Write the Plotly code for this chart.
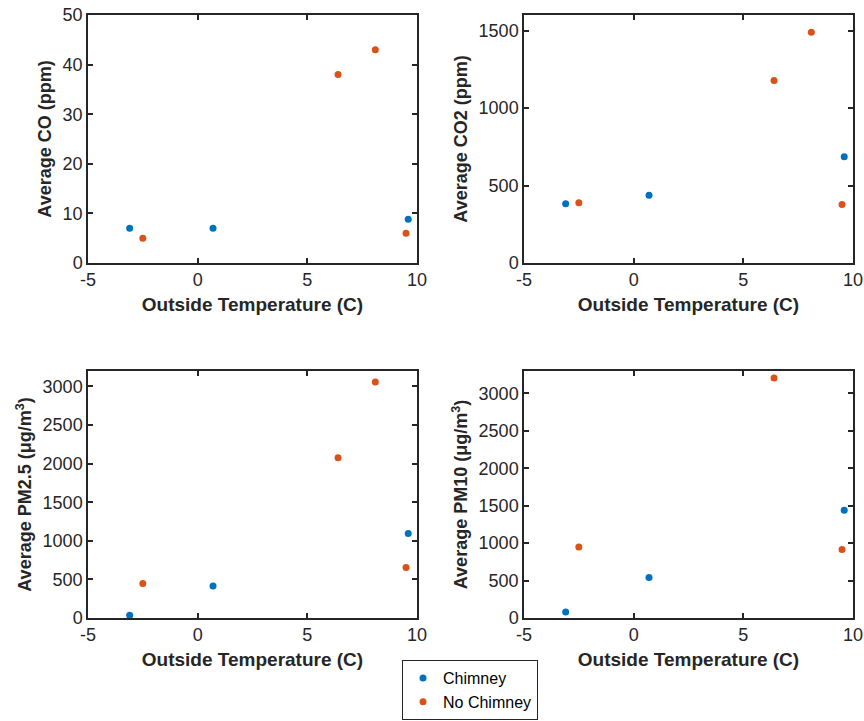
import plotly.graph_objects as go

# ---- data ----
temp_chimney = [-3.1, 0.7, 9.6]
temp_no_chimney = [-2.5, 6.4, 8.1, 9.5]

co_chimney = [7, 7, 8.8]
co_no_chimney = [5, 38, 43, 6]

co2_chimney = [383, 437, 685]
co2_no_chimney = [388, 1178, 1488, 377]

pm25_chimney = [35, 413, 1094]
pm25_no_chimney = [448, 2076, 3058, 655]

pm10_chimney = [80, 542, 1438]
pm10_no_chimney = [949, 3205, None, 915]

x_ticks = [-5, 0, 5, 10]
x_tick_labels = ["-5", "0", "5", "10"]

series_names = ["Chimney", "No Chimney"]
y_titles = ["Average CO (ppm)", "Average CO2 (ppm)",
            "Average PM2.5 (μg/m<sup>3</sup>)", "Average PM10 (μg/m<sup>3</sup>)"]
x_title = "Outside Temperature (C)"

# ---- style ----
BLUE = "#0072BD"
ORANGE = "#D95319"
AX = "#262626"
FONT = "Liberation Sans, Arial, sans-serif"

W, H = 864, 721
def px_x(a, b):
    return [a / W, b / W]
def px_y(top, bottom):
    return [1 - bottom / H, 1 - top / H]

panels = [
    dict(xd=px_x(88, 417), yd=px_y(15, 263), yr=[0, 50], dt=10,
         ch=co_chimney, nc=co_no_chimney),
    dict(xd=px_x(524, 853), yd=px_y(15, 263), yr=[0, 1600], dt=500,
         ch=co2_chimney, nc=co2_no_chimney),
    dict(xd=px_x(88, 417), yd=px_y(371, 618), yr=[0, 3200], dt=500,
         ch=pm25_chimney, nc=pm25_no_chimney),
    dict(xd=px_x(524, 853), yd=px_y(371, 618), yr=[0, 3300], dt=500,
         ch=pm10_chimney, nc=pm10_no_chimney),
]

fig = go.Figure()
layout = {}
for i, p in enumerate(panels):
    n = "" if i == 0 else str(i + 1)
    xa, ya = "x" + n, "y" + n
    fig.add_trace(go.Scatter(x=temp_chimney, y=p["ch"], mode="markers",
                             marker=dict(color=BLUE, size=7),
                             name=series_names[0], showlegend=(i == 0),
                             xaxis=xa, yaxis=ya))
    fig.add_trace(go.Scatter(x=temp_no_chimney, y=p["nc"], mode="markers",
                             marker=dict(color=ORANGE, size=7),
                             name=series_names[1], showlegend=(i == 0),
                             xaxis=xa, yaxis=ya))
    common = dict(showline=True, linecolor=AX, linewidth=1.5, mirror="ticks",
                  ticks="inside", ticklen=5, tickwidth=1.5, tickcolor=AX,
                  showgrid=False, zeroline=False, automargin=False,
                  tickfont=dict(family=FONT, size=18, color=AX))
    layout["xaxis" + n] = dict(common, domain=p["xd"], range=[-5, 10],
                               tickvals=x_ticks, ticktext=x_tick_labels,
                               anchor=ya,
                               title=dict(text="<b>" + x_title + "</b>", standoff=8,
                                          font=dict(family=FONT, size=19, color=AX)))
    layout["yaxis" + n] = dict(common, domain=p["yd"], range=p["yr"], dtick=p["dt"],
                               tick0=0, anchor=xa,
                               title=dict(text="<b>" + y_titles[i] + "</b>", standoff=6,
                                          font=dict(family=FONT, size=18, color=AX)))

fig.update_layout(**layout)
fig.update_layout(
    width=W, height=H,
    margin=dict(l=0, r=0, t=0, b=0, autoexpand=False),
    paper_bgcolor="white", plot_bgcolor="white",
    font=dict(family=FONT, color=AX),
    legend=dict(x=402 / W, y=1 / H, xanchor="left", yanchor="bottom",
                bordercolor=AX, borderwidth=1, bgcolor="white",
                font=dict(family=FONT, size=16, color="black"),
                itemwidth=30, tracegroupgap=0),
)

fig.write_html("out.html")
